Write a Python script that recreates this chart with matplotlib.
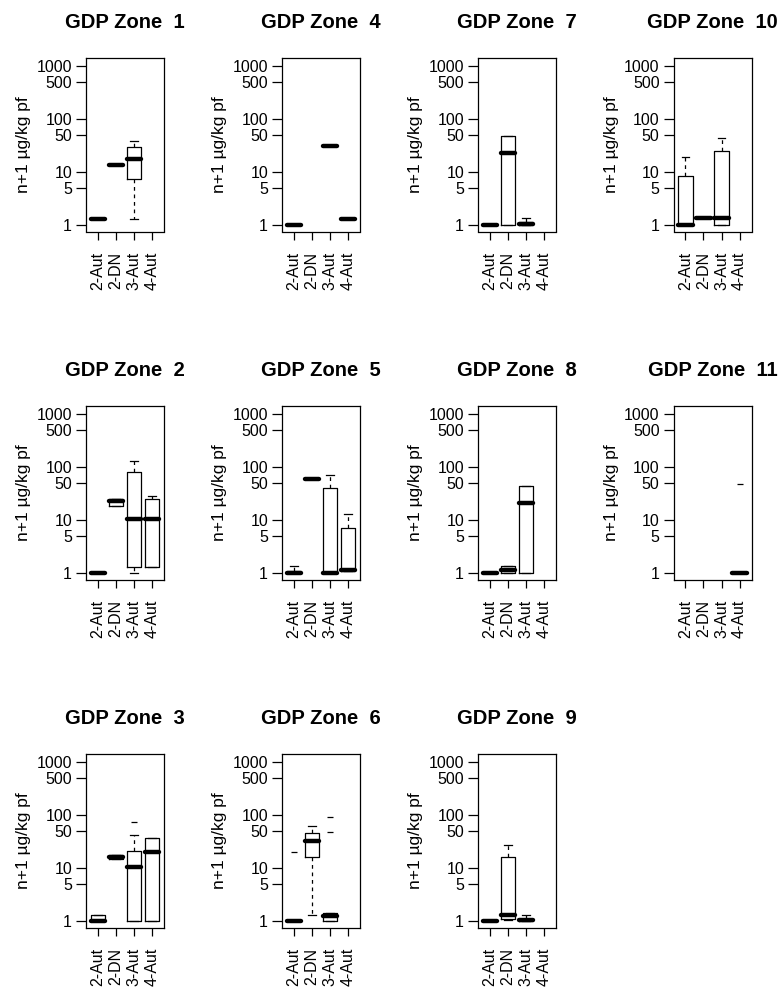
import matplotlib
matplotlib.use("Agg")
import matplotlib.pyplot as plt

plt.rcParams['font.family'] = ['Liberation Sans', 'DejaVu Sans']

groups = ['2-Aut', '2-DN', '3-Aut', '4-Aut']

# per group: (lower whisker, q1, median, q3, upper whisker), None = no data
zone1 = [(1.34, 1.34, 1.34, 1.34, 1.34), (13.5, 13.5, 13.5, 13.5, 13.5),
         (1.34, 7.6, 17.9, 29.6, 38.5), None]
zone2 = [(1, 1, 1, 1, 1), (18.7, 18.7, 23.2, 25.7, 25.7),
         (1.0, 1.32, 10.4, 81.5, 132), (1.32, 1.32, 10.4, 25, 28.8)]
zone3 = [(1, 1, 1, 1.34, 1.34), (14.8, 14.8, 16.6, 18.2, 18.2),
         (1, 1, 10.8, 21.6, 43), (1, 1, 20.6, 37.9, 37.9)]
zone4 = [(1, 1, 1, 1, 1), None, (31, 31, 31, 31, 31),
         (1.34, 1.34, 1.34, 1.34, 1.34)]
zone5 = [(1, 1, 1, 1.12, 1.36), (61.3, 61.3, 61.3, 61.3, 61.3),
         (1, 1, 1, 40.8, 70.8), (1.1, 1.1, 1.17, 7.2, 13.4)]
zone6 = [(1, 1, 1, 1, 1), (1.34, 16.1, 33.3, 46.5, 62),
         (1, 1, 1.28, 1.44, 1.44), None]
zone7 = [(1, 1, 1, 1, 1), (1, 1, 23.2, 47.8, 47.8),
         (1, 1, 1.05, 1.15, 1.37), None]
zone8 = [(1, 1, 1, 1.08, 1.08), (1.03, 1.03, 1.17, 1.36, 1.36),
         (1, 1, 21.6, 44.5, 44.5), None]
zone9 = [(1, 1, 1, 1, 1), (1.05, 1.12, 1.34, 16.1, 28),
         (1, 1, 1.05, 1.12, 1.34), None]
zone10 = [(1, 1, 1, 8.4, 19.2), (1.35, 1.35, 1.35, 1.35, 1.35),
          (1, 1, 1.35, 25.7, 44.5), None]
zone11 = [None, None, None, (1, 1, 1, 1, 1)]

# outliers: zone -> {group index: [values]}
outliers = {3: {2: [73.7]}, 6: {0: [20.0], 2: [47.8, 91.8]}, 11: {3: [47.8]}}

zones = [zone1, zone2, zone3, zone4, zone5, zone6, zone7, zone8, zone9, zone10, zone11]

yticks = [1, 5, 10, 50, 100, 500, 1000]

W, H = 782, 990
fig = plt.figure(figsize=(W / 100, H / 100), dpi=100)

col_left = [86, 282, 478, 673.5]
row_top = [58, 406, 754]
aw, ah = 78, 173.5

for i, zone in enumerate(zones):
    num = i + 1
    col, row = i // 3, i % 3
    ax = fig.add_axes([col_left[col] / W, 1 - (row_top[row] + ah) / H, aw / W, ah / H])
    stats, pos = [], []
    for j, s in enumerate(zone):
        if s is None:
            continue
        stats.append(dict(whislo=s[0], q1=s[1], med=s[2], q3=s[3], whishi=s[4],
                          fliers=outliers.get(num, {}).get(j, [])))
        pos.append(j + 1)
    ax.bxp(stats, positions=pos, widths=0.8, capwidths=0.4,
           boxprops=dict(color='black', linewidth=0.9),
           medianprops=dict(color='black', linewidth=3.2, solid_capstyle='round'),
           whiskerprops=dict(color='black', linewidth=0.9, linestyle=(0, (3, 3))),
           capprops=dict(color='black', linewidth=0.9),
           flierprops=dict(marker='_', markersize=4, markeredgecolor='black',
                           markeredgewidth=0.9))
    ax.set_yscale('log')
    ax.set_ylim(10 ** -0.117, 10 ** 3.157)
    ax.set_xlim(0.34, 4.66)
    ax.set_yticks(yticks)
    ax.set_yticklabels([str(v) for v in yticks])
    ax.minorticks_off()
    ax.set_xticks(range(1, 5))
    ax.set_xticklabels(groups, rotation=90)
    ax.tick_params(axis='y', length=7, width=0.9, pad=3, labelsize=11.5)
    ax.tick_params(axis='x', length=6, width=0.9, pad=8.5, labelsize=11.5)
    for sp in ax.spines.values():
        sp.set_linewidth(0.9)
    ax.set_ylabel('n+1 µg/kg pf', fontsize=12.5)
    ax.yaxis.set_label_coords(-0.70, 0.5)
    ax.set_title(f'GDP Zone  {num}', fontsize=14.5, fontweight='bold', pad=21.5)

fig.savefig('out.png', dpi=100)
